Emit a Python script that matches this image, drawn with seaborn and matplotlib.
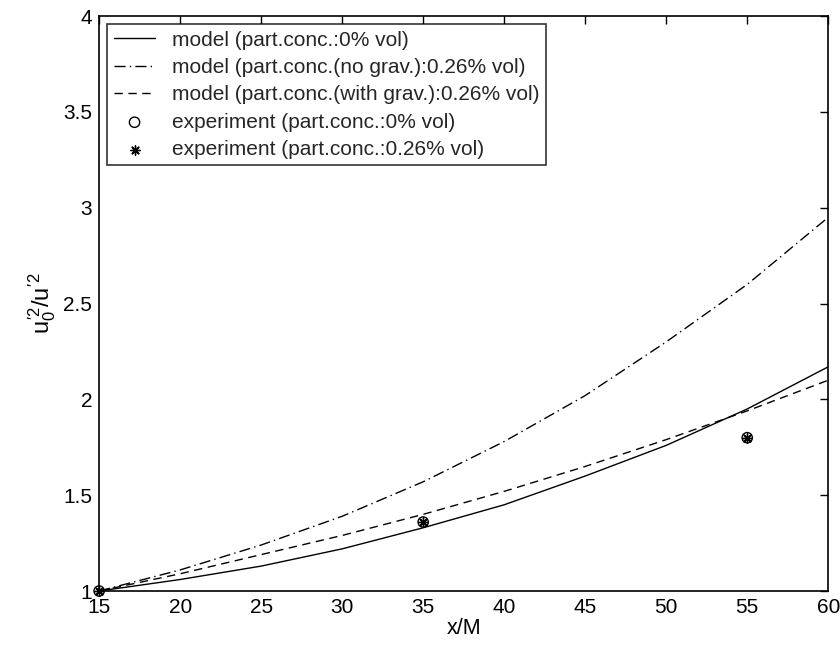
import matplotlib
matplotlib.use("Agg")
import matplotlib.pyplot as plt
import seaborn as sns
import pandas as pd

x_model = [15, 20, 25, 30, 35, 40, 45, 50, 55, 60]
y_model_0 = [1.00, 1.06, 1.13, 1.22, 1.33, 1.45, 1.60, 1.76, 1.95, 2.17]
y_model_nograv = [1.00, 1.11, 1.24, 1.39, 1.57, 1.78, 2.02, 2.30, 2.60, 2.95]
y_model_grav = [1.00, 1.09, 1.19, 1.29, 1.40, 1.52, 1.65, 1.79, 1.94, 2.10]

x_exp = [15, 35, 55]
y_exp_0 = [1.00, 1.36, 1.80]
y_exp_026 = [1.00, 1.36, 1.80]

xticks = [15, 20, 25, 30, 35, 40, 45, 50, 55, 60]
yticks = [1, 1.5, 2, 2.5, 3, 3.5, 4]
ytick_labels = ["1", "1.5", "2", "2.5", "3", "3.5", "4"]

labels = ["model (part.conc.:0% vol)",
          "model (part.conc.(no grav.):0.26% vol)",
          "model (part.conc.(with grav.):0.26% vol)",
          "experiment (part.conc.:0% vol)",
          "experiment (part.conc.:0.26% vol)"]

sns.set_theme(style="white")
plt.rcParams['font.family'] = ['Liberation Sans', 'DejaVu Sans']
plt.rcParams['mathtext.fontset'] = 'custom'
plt.rcParams['mathtext.rm'] = 'Liberation Sans'
plt.rcParams['mathtext.it'] = 'Liberation Sans'

fig = plt.figure(figsize=(8.4, 6.45), dpi=100)
ax = fig.add_axes([0.118, 0.0837, 0.868, 0.8913])

df0 = pd.DataFrame({"x": x_model, "y": y_model_0})
df1 = pd.DataFrame({"x": x_model, "y": y_model_nograv})
df2 = pd.DataFrame({"x": x_model, "y": y_model_grav})
sns.lineplot(data=df0, x="x", y="y", ax=ax, color="black", lw=1.0, linestyle="-", label=labels[0])
sns.lineplot(data=df1, x="x", y="y", ax=ax, color="black", lw=1.0, linestyle=(0, (8, 3, 1, 3)), label=labels[1])
sns.lineplot(data=df2, x="x", y="y", ax=ax, color="black", lw=1.0, linestyle=(0, (6, 4)), label=labels[2])

de0 = pd.DataFrame({"x": x_exp, "y": y_exp_0})
de1 = pd.DataFrame({"x": x_exp, "y": y_exp_026})
sns.scatterplot(data=de0, x="x", y="y", ax=ax, marker="o", s=55, facecolor="none",
                edgecolor="black", linewidth=1.0, label=labels[3], clip_on=False, zorder=5)
sns.scatterplot(data=de1, x="x", y="y", ax=ax, marker=(8, 2, 0), s=45, color="black",
                linewidth=1.0, label=labels[4], clip_on=False, zorder=6)

ax.set_xlim(15, 60)
ax.set_ylim(1, 4)
ax.set_xticks(xticks)
ax.set_yticks(yticks)
ax.set_yticklabels(ytick_labels)
ax.tick_params(direction="in", top=True, right=True, length=6, width=1, labelsize=15, colors="black", pad=5)
for s in ax.spines.values():
    s.set_color("black")
    s.set_linewidth(1.2)
ax.set_xlabel("x/M", fontsize=15.5, color="black", labelpad=1)
ax.set_ylabel(r"$u_0^{\prime 2}/u^{\prime 2}$", fontsize=17, color="black", labelpad=4)

leg = ax.legend(loc="upper left", fontsize=15, frameon=True, fancybox=False,
                edgecolor="black", handlelength=2.0, borderaxespad=0.4,
                labelspacing=0.4, borderpad=0.3, handletextpad=0.8)
leg.get_frame().set_linewidth(1.2)

fig.savefig("out.png", dpi=100)
